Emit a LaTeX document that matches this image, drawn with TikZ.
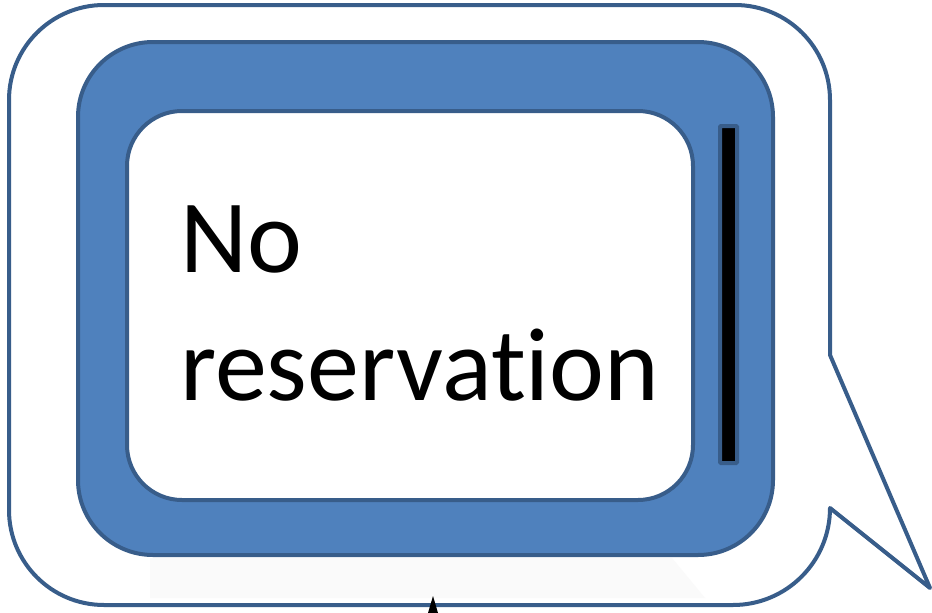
\documentclass[tikz,border=0pt]{standalone}
\usepackage{fontspec}
\setmainfont{Carlito}[Ligatures={NoCommon,NoRare,NoContextual}]
\definecolor{edge}{HTML}{385D8A}
\definecolor{fillblue}{HTML}{4F81BD}
\tikzset{
  bubble/.style={draw=edge, line width=4pt, fill=white, line join=round},
  panel/.style={draw=edge, line width=4pt, fill=fillblue},
  screen/.style={draw=edge, line width=4pt, fill=white},
  slot/.style={draw=edge, line width=4pt, fill=black},
  label/.style={font=\fontsize{104}{128}\selectfont, align=left, inner sep=0pt, anchor=base west}
}
\begin{document}
\begin{tikzpicture}[x=1pt,y=-1pt]
\useasboundingbox (0,0) rectangle (932,613);
% speech bubble
\draw[bubble] (104,5) -- (735,5) arc[start angle=-90, end angle=0, radius=95] -- (830,355) -- (930,588) -- (830,508)
  arc[start angle=0, end angle=90, radius=97] -- (104,605) arc[start angle=90, end angle=180, radius=95]
  -- (9,100) arc[start angle=180, end angle=270, radius=95] -- cycle;
% faint shadow under panel
\fill[black!2] (150,558) -- (672,558) -- (705,598) -- (150,598) -- cycle;
% blue panel
\draw[panel, rounded corners=75pt] (78,42) rectangle (773,555);
% white screen
\draw[screen, rounded corners=55pt] (127,111) rectangle (693,500);
% black slot
\draw[slot, rounded corners=1pt] (720,126) rectangle (737,463);
% small black mark
\fill[black] (428,613) -- (433,596) -- (438,613) -- cycle;
\node[label] (txt) at (180,400) {No\\reservation};
\end{tikzpicture}
\end{document}
